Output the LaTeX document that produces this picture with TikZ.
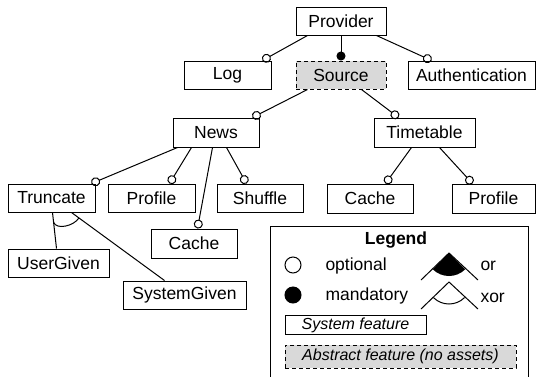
\documentclass[tikz,border=0pt]{standalone}
\usepackage{fontspec}
\setmainfont{Liberation Sans}
\usetikzlibrary{arrows.meta,calc}
\begin{document}
\begin{tikzpicture}[x=1pt,y=-1pt,line width=1pt,
    feat/.style={draw,fill=white,inner sep=0pt,minimum height=28pt,font=\fontsize{17.5}{20}\selectfont},
    abstr/.style={feat,fill=gray!30,dash pattern=on 4pt off 3pt},
    legfeat/.style={feat,font=\fontsize{16}{18}\selectfont\itshape},
    opt/.style={-{Circle[open,length=9pt,width=9pt]}},
    mand/.style={-{Circle[length=9pt,width=9pt]}},
    lbl/.style={anchor=base west,inner sep=0pt,font=\fontsize{17.5}{20}\selectfont}]
  \useasboundingbox (0,0) rectangle (536,376);
  \node[feat,minimum width=90pt] (provider) at (341,21) {Provider};
  \node[feat,minimum width=87pt] (log) at (227.5,75) {Log};
  \node[abstr,minimum width=90pt] (source) at (341,75) {Source};
  \node[feat,minimum width=127pt] (authentication) at (471.5,75) {Authentication};
  \node[feat,minimum width=86pt,minimum height=29pt] (news) at (216,132.5) {News};
  \node[feat,minimum width=101pt,minimum height=29pt] (timetable) at (424.5,132.5) {Timetable};
  \node[feat,minimum width=87pt] (truncate) at (51.5,198) {Truncate};
  \node[feat,minimum width=87pt] (profile) at (151.5,198) {Profile};
  \node[feat,minimum width=86pt] (shuffle) at (260,198) {Shuffle};
  \node[feat,minimum width=86pt,minimum height=29pt] (cache) at (194,243.5) {Cache};
  \node[feat,minimum width=86pt,minimum height=29pt] (ttcache) at (370,198.5) {Cache};
  \node[feat,minimum width=83pt,minimum height=29pt] (ttprofile) at (493.5,198.5) {Profile};
  \node[feat,minimum width=101pt] (usergiven) at (58.5,263) {UserGiven};
  \node[feat,minimum width=123pt] (systemgiven) at (184.5,295) {SystemGiven};

  \draw[opt] ([xshift=12pt]provider.south west) -- ([xshift=79pt]log.north west);
  \draw[mand] (provider.south) -- (source.north);
  \draw[opt] ([xshift=81pt]provider.south west) -- ([xshift=24pt]authentication.north west);
  \draw[opt] ([xshift=12pt]source.south west) -- ([xshift=80pt]news.north west);
  \draw[opt] ([xshift=66pt]source.south west) -- ([xshift=25pt]timetable.north west);
  \draw[opt] ([xshift=5pt]news.south west) -- ([xshift=84pt]truncate.north west);
  \draw[opt] ([xshift=19pt]news.south west) -- ([xshift=62pt]profile.north west);
  \draw[opt] ([xshift=40pt]news.south west) -- ([xshift=47pt]cache.north west);
  \draw[opt] ([xshift=54pt]news.south west) -- ([xshift=30pt]shuffle.north west);
  \draw[opt] ([xshift=38pt]timetable.south west) -- ([xshift=59pt]ttcache.north west);
  \draw[opt] ([xshift=66pt]timetable.south west) -- ([xshift=21pt]ttprofile.north west);
  \draw ([xshift=45pt]truncate.south west) coordinate (tr1) -- ([xshift=49pt]usergiven.north west) coordinate (ug1);
  \draw ([xshift=64pt]truncate.south west) coordinate (tr2) -- ([xshift=42pt]systemgiven.north west) coordinate (sg1);
  \draw ($(tr1)!0.27!(ug1)$) .. controls +(3,8) and +(-5,8) .. ($(tr2)!0.08!(sg1)$);

  \node[draw,fill=white,inner sep=0pt,minimum width=258pt,minimum height=154pt] (legend) at (399,303) {};
  \node[lbl,anchor=base,font=\fontsize{17.5}{20}\selectfont\bfseries] (legendtitle) at (396,244) {Legend};
  \node[circle,draw,inner sep=0pt,minimum size=16pt] (optsym) at (293,265) {};
  \node[lbl] (opttext) at (325,270) {optional};
  \node[circle,draw,fill=black,inner sep=0pt,minimum size=16pt] (mandsym) at (293,295) {};
  \node[lbl] (mandtext) at (325,300) {mandatory};
  \coordinate (orapex) at (449,253);
  \draw (orapex) ++(-28,27) -- (orapex) -- ++(29,27);
  \fill (orapex) -- ++(45:23) arc[start angle=45,end angle=135,radius=23] -- cycle;
  \node[lbl] (ortext) at (480,270) {or};
  \coordinate (xorapex) at (449,282);
  \draw (xorapex) ++(-28,27) -- (xorapex) -- ++(29,27);
  \draw (xorapex) ++(45:22) arc[start angle=45,end angle=135,radius=22];
  \node[lbl] (xortext) at (480,302) {xor};
  \node[legfeat,minimum width=141pt,minimum height=19pt] (sysfeat) at (355.5,325) {System feature};
  \node[legfeat,fill=gray!30,dash pattern=on 4pt off 3pt,minimum width=231pt,minimum height=23pt] (absfeat) at (400.5,356.5) {Abstract feature (no assets)};
\end{tikzpicture}
\end{document}
